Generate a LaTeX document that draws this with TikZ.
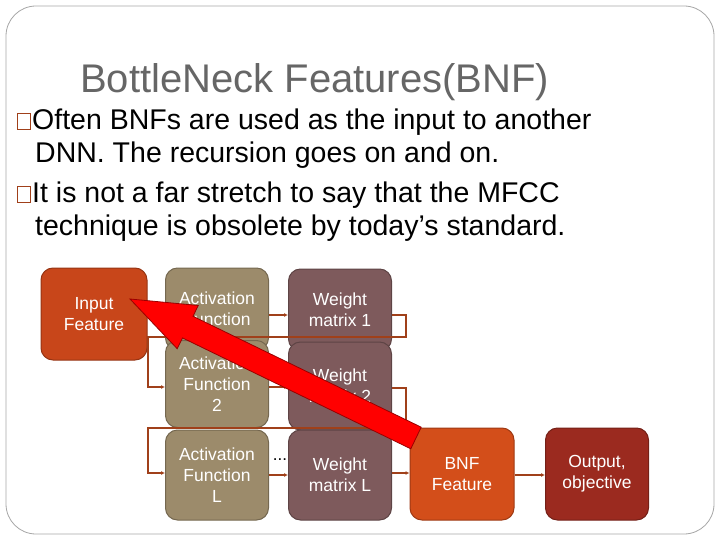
\documentclass[tikz,border=0pt]{standalone}
\usepackage{fontspec}
\setmainfont{Liberation Sans}
\usetikzlibrary{calc,arrows.meta}
\definecolor{inC}{HTML}{C8461A}
\definecolor{actC}{HTML}{9C8B6B}
\definecolor{wC}{HTML}{7E5A5C}
\definecolor{bnfC}{HTML}{D34E1A}
\definecolor{outC}{HTML}{9B2A1F}
\definecolor{lnC}{HTML}{A0401A}
\tikzset{
 box/.style={rounded corners=12pt,draw=#1!75!black,line width=1pt,minimum width=103pt,align=center,text=white,font=\fontsize{17.5}{21}\selectfont,inner sep=0pt},
 conn/.style={draw=lnC,line width=1.6pt,-{Latex[length=4pt,width=4pt]}},
 bul/.style={draw=lnC,line width=1pt,minimum width=13pt,minimum height=16pt,inner sep=0pt}
}
\begin{document}
\begin{tikzpicture}[x=1pt,y=-1pt]
\useasboundingbox (0,0) rectangle (720,540);
\draw[gray!70,line width=0.8pt,rounded corners=30pt] (6,6) rectangle (714,534);
\node[anchor=west,text=black!60,font=\fontsize{40}{44}\selectfont,inner sep=0pt] (title) at (80,82) {BottleNeck Features(BNF)};
\node[bul] (b1) at (24,122) {};
\node[anchor=west,font=\fontsize{28.5}{33}\selectfont,align=left,inner sep=0pt] (t1) at (32,139) {Often BNFs are used as the input to another\\\hspace*{3pt}DNN. The recursion goes on and on.};
\node[bul] (b2) at (24,195) {};
\node[anchor=west,font=\fontsize{28.5}{33}\selectfont,align=left,inner sep=0pt] (t2) at (32,212) {It is not a far stretch to say that the MFCC\\\hspace*{3pt}technique is obsolete by today’s standard.};
% boxes
\node[box=inC,fill=inC,minimum width=106pt,minimum height=92pt] (in) at (94,314) {Input\\Feature};
\node[box=actC,fill=actC,minimum height=82pt] (a1) at (217,309) {Activation\\Function};
\node[box=wC,fill=wC,minimum height=82pt] (w1) at (340,310) {Weight\\matrix 1};
\node[box=actC,fill=actC,minimum height=87pt] (a2) at (217,384) {Activation\\Function\\2};
\node[box=wC,fill=wC,minimum height=88pt] (w2) at (340,386) {Weight\\matrix 2};
\node[box=actC,fill=actC,minimum height=90pt] (aL) at (217,475) {Activation\\Function\\L};
\node[box=wC,fill=wC,minimum height=90pt] (wL) at (340,475) {Weight\\matrix L};
\node[box=bnfC,fill=bnfC,minimum width=104pt,minimum height=92pt] (bnf) at (462,474) {BNF\\Feature};
\node[box=outC,fill=outC,minimum width=103pt,minimum height=92pt] (out) at (597,474) {Output,\\objective};
\node[font=\fontsize{17}{17}\selectfont] (dots) at (280,460) {...};
% connectors
\draw[conn] (a1.east |- 0,315) -- (w1.west |- 0,315);
\draw[conn] (w1.east |- 0,315) -| (406,337) -| (148,387) -- (a2.west |- 0,387);
\draw[conn] (a2.east |- 0,387) -- (w2.west |- 0,387);
\draw[conn] (w2.east |- 0,388) -| (406,428) -| (148,473) -- (aL.west |- 0,473);
\draw[conn] (aL.east |- 0,475) -- (wL.west |- 0,475);
\draw[conn] (wL.east |- 0,473) -- (bnf.west |- 0,473);
\draw[conn] (bnf.east |- 0,475) -- (out.west |- 0,475);
% red arrow
\coordinate (tip) at (130,299);
\fill[red,draw=red!60!black,line width=0.8pt]
 (410.8,448.8) -- (182.5,337.9) -- (177.2,348.7) -- (tip)
 -- (198.2,305.5) -- (193.0,316.3) -- (421.2,427.2) -- cycle;
\end{tikzpicture}
\end{document}
